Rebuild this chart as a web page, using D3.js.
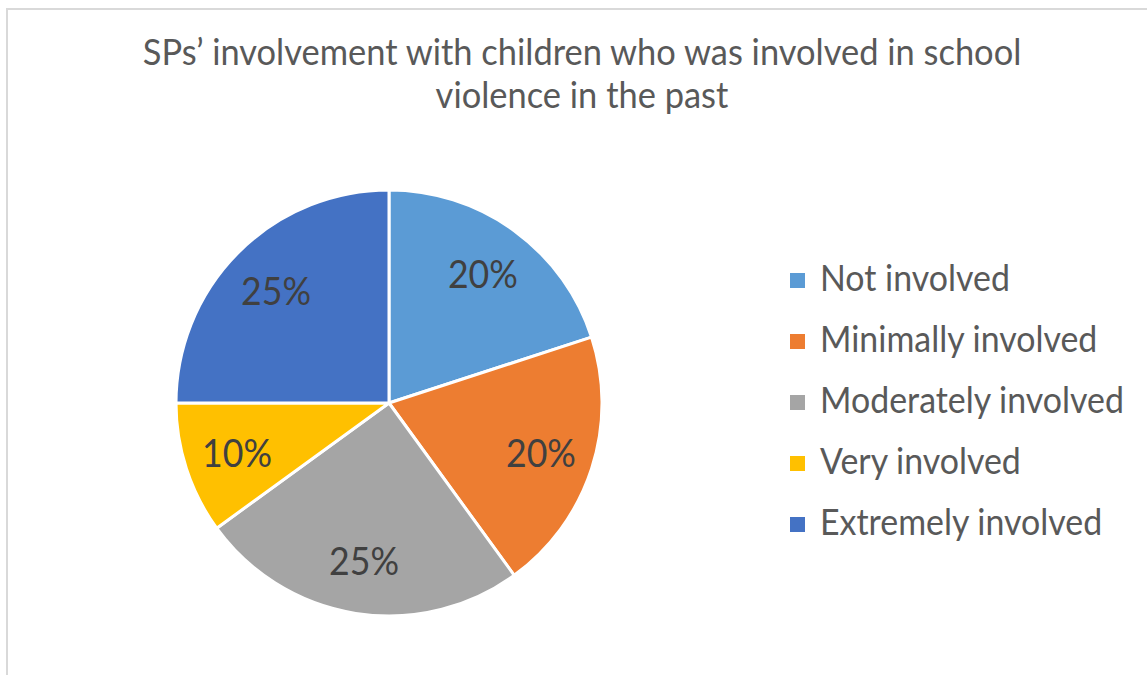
<!DOCTYPE html>
<html>
<head>
<meta charset="utf-8">
<script src="https://cdn.jsdelivr.net/npm/d3@7"></script>
<style>
  body { margin: 0; background: #fff; }
  svg { display: block; font-family: Lato, "Open Sans", sans-serif; }
</style>
</head>
<body>
<svg id="chart" width="1147" height="675"></svg>
<script>
// chart data
const categories = ['Not involved', 'Minimally involved', 'Moderately involved', 'Very involved', 'Extremely involved'];
const values = [20, 20, 25, 10, 25];
const colors = ['#5B9BD5', '#ED7D31', '#A5A5A5', '#FFC000', '#4472C4'];
const titleLines = ['SPs\u2019 involvement with children who was involved in school', 'violence in the past'];

const width = 1147;
const height = 675;
const cx = 389, cy = 403, radius = 213;
const squeeze = 1.08; // Lato is wider than Calibri, so enlarge and compress

const svg = d3.select('#chart');

// measure natural width of a string at a font size
function measure(text, size) {
  const t = svg.append('text').style('font-size', size + 'px').text(text);
  const w = t.node().getComputedTextLength();
  t.remove();
  return w;
}

// draw text slightly taller than the width-fitted size, compressed back
function condensed(sel, size) {
  sel.style('font-size', size * squeeze + 'px')
    .each(function (d) {
      const w = measure(this.textContent, size);
      d3.select(this).attr('textLength', w).attr('lengthAdjust', 'spacingAndGlyphs');
    });
}

// chart area border (cropped on right and bottom)
svg.append('rect')
  .attr('x', 7).attr('y', 9)
  .attr('width', width + 20).attr('height', height + 20)
  .attr('fill', '#fff')
  .attr('stroke', '#d9d9d9')
  .attr('stroke-width', 2);

// title
const titleSize = 32 * 879 / measure(titleLines[0], 32);
svg.selectAll('text.title')
  .data(titleLines)
  .enter().append('text')
  .attr('class', 'title')
  .attr('x', 582)
  .attr('y', (d, i) => 65 + i * 43)
  .attr('text-anchor', 'middle')
  .style('fill', '#595959')
  .text(d => d)
  .call(condensed, titleSize);

// pie
const pie = d3.pie().sort(null).value(d => d);
const arcs = pie(values);
const arc = d3.arc().innerRadius(0).outerRadius(radius);
const labelArc = d3.arc().innerRadius(radius * 0.75).outerRadius(radius * 0.75);

const g = svg.append('g').attr('transform', `translate(${cx},${cy})`);

g.selectAll('path')
  .data(arcs)
  .enter().append('path')
  .attr('d', arc)
  .attr('fill', (d, i) => colors[i])
  .attr('stroke', '#fff')
  .attr('stroke-width', 3)
  .attr('stroke-linejoin', 'round');

const labelSize = 32 * 70 / measure('25%', 32);
g.selectAll('text.lbl')
  .data(arcs)
  .enter().append('text')
  .attr('class', 'lbl')
  .attr('transform', d => `translate(${labelArc.centroid(d)})`)
  .attr('dy', '0.38em')
  .attr('text-anchor', 'middle')
  .style('fill', '#404040')
  .text(d => d.data + '%')
  .call(condensed, labelSize);

// legend
const legendSize = 32 * 190 / measure(categories[0], 32);
const legend = svg.selectAll('g.legend')
  .data(categories)
  .enter().append('g')
  .attr('class', 'legend')
  .attr('transform', (d, i) => `translate(790, ${291 + i * 61})`);

legend.append('rect')
  .attr('x', 0).attr('y', -18)
  .attr('width', 15).attr('height', 15)
  .attr('fill', (d, i) => colors[i]);

legend.append('text')
  .attr('x', 30).attr('y', 0)
  .style('fill', '#595959')
  .text(d => d)
  .call(condensed, legendSize);
</script>
</body>
</html>
